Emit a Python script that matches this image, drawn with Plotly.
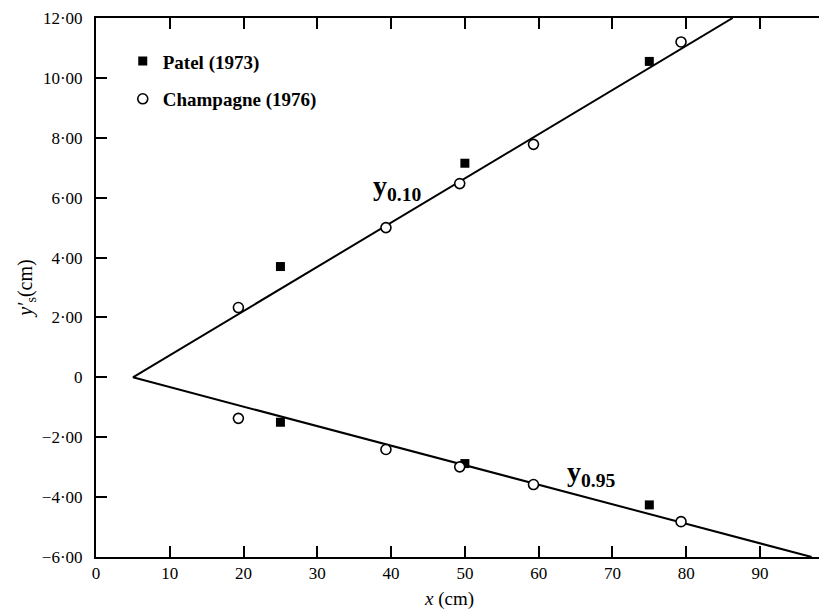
import plotly.graph_objects as go

# Measured points (cm)
patel_x = [25, 50, 75]
patel_y010 = [3.7, 7.15, 10.55]
patel_y095 = [-1.5, -2.88, -4.26]

champ_x = [19.3, 39.3, 49.3, 59.3, 79.3]
champ_y010 = [2.33, 5.0, 6.47, 7.78, 11.2]
champ_y095 = [-1.37, -2.41, -2.99, -3.58, -4.82]

# Fitted lines from the virtual origin
line010_x = [5, 86.3]
line010_y = [0, 12]
line095_x = [5, 97]
line095_y = [0, -6]

y_ticks = [12, 10, 8, 6, 4, 2, 0, -2, -4, -6]
y_ticktext = ["12·00", "10·00", "8·00", "6·00", "4·00", "2·00", "0", "−2·00", "−4·00", "−6·00"]
x_ticks = [0, 10, 20, 30, 40, 50, 60, 70, 80, 90]

SERIF = "Liberation Serif"

fig = go.Figure()

fig.add_trace(go.Scatter(x=line010_x, y=line010_y, mode="lines",
                         line=dict(color="black", width=2), showlegend=False, hoverinfo="skip"))
fig.add_trace(go.Scatter(x=line095_x, y=line095_y, mode="lines",
                         line=dict(color="black", width=2), showlegend=False, hoverinfo="skip"))

fig.add_trace(go.Scatter(x=patel_x + patel_x, y=patel_y010 + patel_y095, mode="markers",
                         name="<b>Patel (1973)</b>", legendgroup="a",
                         marker=dict(symbol="square", size=9, color="black")))
fig.add_trace(go.Scatter(x=champ_x + champ_x, y=champ_y010 + champ_y095, mode="markers",
                         name="<b>Champagne (1976)</b>", legendgroup="b",
                         marker=dict(symbol="circle", size=10, color="white",
                                     line=dict(color="black", width=1.6))))

fig.add_annotation(x=40.8, y=6.35, xref="x", yref="y", showarrow=False,
                   text="<b>y</b><sub><b>0.10</b></sub>",
                   font=dict(family=SERIF, size=28, color="black"))
fig.add_annotation(x=67.1, y=-3.2, xref="x", yref="y", showarrow=False,
                   text="<b>y</b><sub><b>0.95</b></sub>",
                   font=dict(family=SERIF, size=28, color="black"))

fig.add_annotation(x=47.8, y=-0.077, xref="x", yref="paper", showarrow=False,
                   text="<i>x</i> (cm)", yanchor="middle",
                   font=dict(family=SERIF, size=19, color="black"))

fig.update_layout(
    width=819, height=613,
    margin=dict(l=96, r=0, t=18, b=56),
    paper_bgcolor="white", plot_bgcolor="white",
    font=dict(family=SERIF, color="black"),
    legend=dict(x=0.037, y=0.955, xanchor="left", yanchor="top",
                font=dict(family=SERIF, size=19, color="black"),
                bgcolor="rgba(0,0,0,0)", tracegroupgap=10, traceorder="grouped"),
    xaxis=dict(range=[0, 98], tickvals=x_ticks, showgrid=False, zeroline=False,
               showline=True, linecolor="black", linewidth=2, mirror="ticks",
               ticks="inside", ticklen=11, tickwidth=1.5, tickcolor="black",
               tickfont=dict(family=SERIF, size=17, color="black")),
    yaxis=dict(range=[-6, 12], tickvals=y_ticks, ticktext=y_ticktext,
               showgrid=False, zeroline=False,
               showline=True, linecolor="black", linewidth=2,
               ticks="inside", ticklen=11, tickwidth=1.5, tickcolor="black",
               ticklabelstandoff=8,
               tickfont=dict(family=SERIF, size=17, color="black"),
               title=dict(text="<i>y′</i><sub>s</sub>(cm)", standoff=4,
                          font=dict(family=SERIF, size=20, color="black"))),
)

fig.write_html("out.html")
